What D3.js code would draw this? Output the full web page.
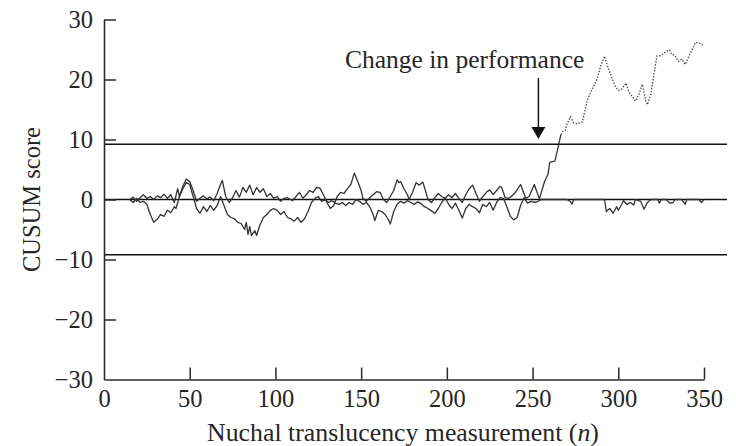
<!DOCTYPE html>
<html>
<head>
<meta charset="utf-8">
<script src="https://cdn.jsdelivr.net/npm/d3@7"></script>
<style>
  html, body { margin: 0; padding: 0; background: #fff; }
  svg { display: block; }
  text { font-family: "Liberation Serif", "Times New Roman", serif; fill: #262626; }
</style>
</head>
<body>
<svg id="chart" width="736" height="446"></svg>
<script>
// ---- data ----
const xTicks = [0, 50, 100, 150, 200, 250, 300, 350];
const yTicks = [-30, -20, -10, 0, 10, 20, 30];
const controlLimits = [9.2, 0, -9.2];
const changePoint = 253.4;
const annotation = "Change in performance";
const xTitle = "Nuchal translucency measurement (n)";
const yTitle = "CUSUM score";

// upper-type CUSUM (solid part, before the change in performance)
const seriesA = [
  [15,0],[17,0.4],[19,-0.3],[21,0.3],[23,0.8],[25,0.2],[27,0.5],[29,0],[31,0.6],[33,0.3],
  [35,0.9],[37,0.2],[39,0.8],[41,-0.5],[43,1.8],[44,0.5],[46,2.2],[48,3.4],[50,3.0],[52,1.5],
  [54,-0.3],[56,0.2],[58,0.6],[60,0.1],[62,0.4],[64,-0.2],[66,1.0],[68,2.5],[69,3.2],[71,0.5],
  [73,-0.5],[75,0.3],[77,1.5],[79,0.4],[81,2.0],[83,1.2],[85,2.4],[87,0.8],[89,2.0],[91,1.2],
  [93,1.8],[95,0.5],[97,1.0],[99,0.2],[101,0.5],[103,-0.3],[105,0.2],[107,0.3],[110,-0.2],[112,0.5],
  [114,1.2],[116,0.2],[118,0.8],[120,1.5],[122,1.2],[124,2.0],[126,1.9],[128,0.8],[130,-0.5],[132,-1.5],
  [134,-1.0],[136,0.5],[138,1.2],[140,1.0],[142,1.8],[144,2.5],[146,4.4],[148,3.0],[150,1.5],[151,0.2],
  [153,-0.3],[155,0.3],[157,0.8],[159,1.3],[161,1.2],[163,0.0],[165,-0.5],[167,0.5],[169,1.5],[171,3.3],
  [172,2.8],[173,3.0],[175,1.8],[177,0.8],[178,0.0],[180,1.2],[182,2.8],[184,2.4],[186,2.9],[188,1.0],
  [189,0.0],[191,-0.5],[193,0.3],[195,1.0],[197,0.5],[199,0.2],[201,0.8],[203,0.3],[205,1.0],[207,0.2],
  [209,-0.5],[211,0.8],[213,1.8],[215,2.4],[217,1.0],[219,-0.3],[221,0.5],[223,1.2],[225,1.6],[227,0.8],
  [229,1.5],[231,2.2],[232,2.0],[234,0.3],[236,0.2],[238,0.6],[240,1.2],[243,2.5],[246,0.2],[248,0.5],
  [251,2.5],[254,0.1],[257,3.0],[259,4.2],[260,6.2],[263,6.4],[265,8.8],[266.5,10.8]
];

// upper-type CUSUM after the change (dotted)
const seriesAfter = [
  [266.5,10.8],[267.5,11.3],[269,11.5],[270,12.5],[272,13.8],[274,12.8],[276,12.6],[279,12.9],[282,16.6],[285,18.5],
  [287.5,20.0],[290,22.5],[292,23.9],[294,22.0],[296,20.5],[298,19.0],[300,18.2],[302,18.4],[304.5,19.4],[306,18.0],
  [308,17.2],[310,16.4],[312,17.5],[314,19.2],[316,16.5],[317,15.8],[319,17.5],[320,19.4],[322.5,23.9],[325,24.0],
  [328,24.7],[330,24.9],[331,24.2],[333,24.0],[335,23.0],[337,23.4],[339,22.5],[341,23.8],[342,24.4],[344,25.5],
  [345,26.2],[348,26.0],[350,25.5]
];

// lower-type CUSUM (solid)
const seriesB = [
  [15,0],[17,-0.5],[19,0.2],[21,-0.5],[23,-0.3],[25,-0.8],[27,-2.5],[29,-3.8],[31,-3.3],[33,-2.5],
  [35,-2.8],[37,-1.8],[39,-2.2],[41,-1.2],[42,-1.5],[44,0.5],[46,1.8],[48,2.8],[50,2.5],[52,0.5],
  [54,-1.5],[56,-2.3],[58,-1.2],[60,-2.0],[62,-1.0],[64,-1.8],[66,-1.0],[68,0.5],[70,-1.0],[72,-2.5],
  [74,-3.0],[76,-3.2],[78,-3.8],[80,-4.0],[82,-5.0],[83,-3.8],[84,-5.8],[85,-4.5],[86,-6.0],[88,-5.2],
  [89,-6.0],[91,-4.2],[93,-3.0],[95,-2.5],[97,-1.8],[99,-1.5],[101,-1.8],[103,-2.5],[105,-2.0],[107,-3.0],
  [109,-3.2],[111,-3.6],[113,-3.0],[115,-3.8],[117,-3.2],[119,-2.0],[121,-0.5],[123,0.2],[125,0.5],[127,-0.3],
  [129,0.0],[131,-0.5],[133,-0.2],[135,-0.6],[137,-0.8],[139,-0.5],[141,-1.0],[143,-0.5],[145,-0.8],[147,0.0],
  [149,-0.3],[151,-0.8],[153,-0.5],[155,-1.2],[157,-2.5],[158,-3.5],[160,-1.8],[162,-2.0],[164,-2.5],[166,-3.4],
  [167,-4.1],[169,-2.0],[171,-0.8],[173,-0.3],[175,-0.6],[177,-0.2],[179,-0.5],[181,-0.8],[183,-0.4],[185,-0.7],
  [187,-1.2],[189,-1.5],[191,-1.9],[193,-2.3],[195,-1.5],[197,-0.5],[199,0.3],[201,-0.8],[203,-1.5],[205,-0.6],
  [207,-1.8],[209,-3.1],[211,-1.5],[213,-0.8],[215,-1.2],[217,-1.5],[219,-2.2],[221,-0.8],[223,-1.2],[225,-0.5],
  [227,-1.8],[229,-0.5],[231,0.3],[233,0.2],[235,-1.2],[237,-2.8],[239,-3.4],[241,-3.0],[243,-1.0],[245,0.3],
  [247,-0.6],[249,-0.3],[252,-0.5],[255,0],[270,0],[272,-0.3],[273,-0.8],[274,0],[292,0],[293,-2.0],
  [295,-1.5],[297,-2.3],[299,-1.2],[300,-1.8],[302,-0.8],[303,-0.2],[305,-0.8],[307,-0.5],[309,-0.9],[310,0],
  [313,-0.3],[315,-1.6],[317,-0.5],[319,0],[323,0],[324,-0.6],[325,0],[328,0],[330,-0.6],[332,-0.5],
  [333,0],[337,0],[339,-0.8],[340,0],[347,0],[348.5,-0.5],[350,0]
];

// ---- layout ----
const svg = d3.select("#chart");
const x = d3.scaleLinear().domain([0, 350]).range([104, 704]);
const y = d3.scaleLinear().domain([-30, 30]).range([379.5, 19.5]);
const ink = "#2a2a2a";

// control / reference lines
svg.append("g").selectAll("line").data(controlLimits).join("line")
  .attr("x1", x(0)).attr("x2", 727)
  .attr("y1", d => y(d)).attr("y2", d => y(d))
  .attr("stroke", "#111").attr("stroke-width", 1.6);

// axes
const yAxis = d3.axisLeft(y).tickValues(yTicks).tickSizeInner(-12).tickSizeOuter(0).tickPadding(11)
  .tickFormat(d => d < 0 ? "\u2212" + Math.abs(d) : String(d));
const xAxis = d3.axisBottom(x).tickValues(xTicks).tickSizeInner(-12).tickSizeOuter(0).tickPadding(10)
  .tickFormat(d => String(d));

const gy = svg.append("g").attr("transform", `translate(${x(0)},0)`).call(yAxis);
const gx = svg.append("g").attr("transform", `translate(0,${y(-30)})`).call(xAxis);
[gx, gy].forEach(g => {
  g.select(".domain").attr("stroke", ink).attr("stroke-width", 1.6);
  g.selectAll(".tick line").attr("stroke", ink).attr("stroke-width", 1.5);
  g.selectAll(".tick text").attr("font-family", "Liberation Serif, serif")
    .attr("font-size", 24.5).attr("fill", "#262626");
});
gx.selectAll(".tick").filter(d => d === 0).select("line").remove();
gy.selectAll(".tick").filter(d => d === -30).select("line").remove();

// data lines
const line = d3.line().x(d => x(d[0])).y(d => y(d[1]));
svg.append("path").datum(seriesB).attr("d", line)
  .attr("fill", "none").attr("stroke", "#333").attr("stroke-width", 1.3).attr("stroke-linejoin", "round");
svg.append("path").datum(seriesA).attr("d", line)
  .attr("fill", "none").attr("stroke", "#333").attr("stroke-width", 1.3).attr("stroke-linejoin", "round");
svg.append("path").datum(seriesAfter).attr("d", line)
  .attr("fill", "none").attr("stroke", "#444").attr("stroke-width", 1.3)
  .attr("stroke-dasharray", "1.4 1.6");

// annotation
const ax = x(changePoint);
svg.append("line").attr("x1", ax).attr("x2", ax).attr("y1", 78).attr("y2", 128)
  .attr("stroke", "#111").attr("stroke-width", 1.5);
svg.append("path")
  .attr("d", `M${ax - 7},127 L${ax + 7},127 L${ax},139 Z`).attr("fill", "#111");
svg.append("text").attr("x", 345).attr("y", 68).attr("font-size", 25.5).text(annotation);

// titles
svg.append("text").attr("x", 403).attr("y", 441)
  .attr("text-anchor", "middle").attr("font-size", 25.8)
  .html('Nuchal translucency measurement (<tspan font-style="italic">n</tspan>)');
svg.append("text").attr("transform", `translate(40,${y(0)}) rotate(-90)`)
  .attr("text-anchor", "middle").attr("font-size", 24.5).text(yTitle);
</script>
</body>
</html>
